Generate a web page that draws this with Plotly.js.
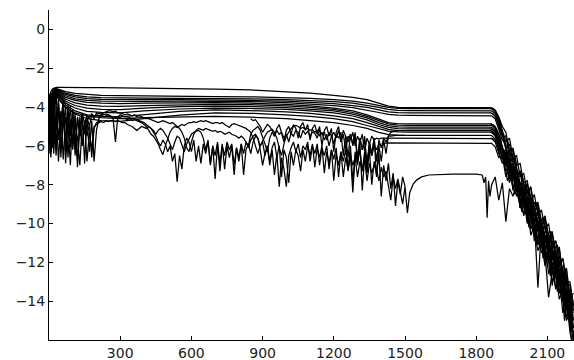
<!DOCTYPE html>
<html>
<head>
<meta charset="utf-8">
<script src="https://cdn.plot.ly/plotly-3.0.1.min.js"></script>
<style>html,body{margin:0;padding:0;background:#fff}#chart{width:574px;height:360px}</style>
</head>
<body>
<div id="chart"></div>
<script>
// ---- tick labels ----
const xTicks = [300, 600, 900, 1200, 1500, 1800, 2100];
const yTicks = [0, -2, -4, -6, -8, -10, -12, -14];

// ---- smooth series: values at knotX ----
const knotX = [0, 8, 16, 24, 32, 45, 70, 110, 160, 220, 300, 400, 550, 700, 850, 1000, 1100, 1200, 1280, 1340, 1390, 1430, 1470, 1520, 1860];
const s1  = [-3.6, -3.2, -3.05, -3.0, -2.98, -2.98, -2.99, -3.0, -3.0, -3.0, -3.01, -3.02, -3.04, -3.07, -3.12, -3.2, -3.28, -3.4, -3.5, -3.62, -3.8, -3.95, -4.02, -4.03, -4.03];
const s2  = [-4.5, -3.4, -3.15, -3.05, -3.05, -3.1, -3.2, -3.3, -3.36, -3.4, -3.41, -3.43, -3.45, -3.46, -3.47, -3.5, -3.55, -3.62, -3.7, -3.8, -3.92, -4.02, -4.07, -4.08, -4.08];
const s3  = [-3.3, -4.1, -3.2, -3.1, -3.08, -3.15, -3.28, -3.4, -3.47, -3.51, -3.53, -3.54, -3.55, -3.56, -3.58, -3.62, -3.66, -3.72, -3.8, -3.9, -4.02, -4.12, -4.17, -4.18, -4.18];
const s4  = [-5.0, -3.6, -3.3, -3.15, -3.12, -3.2, -3.35, -3.48, -3.56, -3.6, -3.62, -3.62, -3.62, -3.63, -3.66, -3.7, -3.75, -3.82, -3.92, -4.02, -4.15, -4.25, -4.29, -4.30, -4.30];
const s5  = [-3.8, -4.8, -3.4, -3.2, -3.15, -3.25, -3.42, -3.58, -3.66, -3.7, -3.72, -3.71, -3.7, -3.7, -3.72, -3.77, -3.83, -3.92, -4.03, -4.15, -4.28, -4.38, -4.42, -4.43, -4.43];
const s6  = [-5.5, -3.5, -3.6, -3.25, -3.2, -3.3, -3.5, -3.66, -3.76, -3.8, -3.82, -3.8, -3.78, -3.77, -3.8, -3.86, -3.94, -4.05, -4.2, -4.4, -4.62, -4.8, -4.86, -4.87, -4.87];
const s7  = [-4.2, -5.6, -3.5, -3.3, -3.22, -3.35, -3.6, -3.78, -3.9, -3.95, -3.96, -3.92, -3.88, -3.86, -3.88, -3.94, -4.02, -4.12, -4.28, -4.48, -4.7, -4.87, -4.93, -4.94, -4.94];
const s8  = [-6.0, -3.9, -3.7, -3.35, -3.25, -3.4, -3.7, -3.92, -4.06, -4.12, -4.13, -4.06, -3.98, -3.95, -3.97, -4.03, -4.1, -4.2, -4.36, -4.56, -4.8, -4.96, -5.02, -5.03, -5.03];
const s9  = [-4.8, -6.2, -3.8, -3.4, -3.3, -3.45, -3.8, -4.05, -4.22, -4.28, -4.3, -4.2, -4.1, -4.05, -4.07, -4.12, -4.2, -4.3, -4.46, -4.66, -4.9, -5.05, -5.11, -5.12, -5.12];
const s10 = [-6.4, -4.3, -5.2, -3.45, -3.35, -3.5, -3.9, -4.2, -4.4, -4.48, -4.5, -4.38, -4.22, -4.15, -4.18, -4.25, -4.33, -4.45, -4.6, -4.8, -5.0, -5.15, -5.21, -5.22, -5.22];
const s11 = [-5.2, -6.6, -4.2, -3.5, -3.4, -3.6, -4.0, -4.35, -4.6, -4.7, -4.74, -4.6, -4.42, -4.3, -4.32, -4.4, -4.48, -4.6, -4.75, -4.95, -5.12, -5.24, -5.28, -5.29, -5.29];
const s12 = [-3.9, -5.4, -6.1, -3.6, -3.45, -3.65, -4.05, -4.3, -4.45, -4.55, -4.6, -4.55, -4.5, -4.48, -4.52, -4.6, -4.7, -4.8, -4.95, -5.1, -5.3, -5.42, -5.45, -5.46, -5.46];

// ---- noisy series: values every 10 units from 0 to 1500 ----
const noiseStep = 10;
const n1 = [
 -4.2, -5.6, -3.5, -6.1, -4.0, -5.4, -3.8, -6.3, -4.3, -5.5,
 -4.1, -6.0, -4.5, -5.2, -4.3, -4.9, -4.4, -4.6, -4.35, -4.5,
 -4.4, -4.45, -4.4, -4.5, -4.45, -4.4, -4.5, -4.5, -4.55, -4.5,
 -4.55, -4.6, -4.6, -4.65, -4.6, -4.7, -4.65, -4.7, -4.75, -4.8,
 -4.9, -5.0, -5.2, -5.4, -5.5, -5.7, -5.9, -6.2, -6.45, -6.0,
 -5.6, -5.3, -5.1, -5.0, -5.05, -4.95, -4.9, -4.95, -4.85, -4.8,
 -4.8, -4.75, -4.8, -4.75, -4.7, -4.75, -4.7, -4.75, -4.8, -4.85,
 -4.8, -4.8, -4.85, -4.8, -4.9, -5.0, -5.05, -4.9, -4.85, -4.9,
 -4.95, -5.0, -5.05, -5.1, -5.2, -5.3, -5.6, -6.0, -6.4, -6.0,
 -5.7, -5.5, -5.3, -5.2, -5.15, -5.3, -5.6, -6.1, -6.5, -5.9,
 -5.5, -5.3, -5.1, -5.0, -4.95, -5.0, -5.1, -5.05, -5.15, -5.1,
 -5.2, -5.15, -5.3, -5.2, -5.5, -5.3, -5.7, -5.4, -6.0, -5.5,
 -5.3, -5.6, -5.2, -5.8, -5.4, -6.2, -5.5, -5.7, -5.3, -6.0,
 -5.5, -5.8, -5.4, -6.3, -5.6, -5.9, -5.5, -5.7, -5.6, -5.65,
 -5.6, -5.6, -5.6, -5.6, -5.6, -5.6, -5.6, -5.6, -5.6, -5.6,
 -5.6];
const n2 = [
 -5.0, -3.3, -6.4, -4.0, -6.8, -4.6, -3.7, -6.9, -4.8, -7.0,
 -4.2, -6.5, -4.6, -5.5, -4.4, -6.9, -4.5, -5.0, -4.4, -4.6,
 -4.3, -4.35, -4.3, -4.4, -4.35, -4.4, -4.45, -4.6, -5.8, -4.5,
 -4.4, -4.45, -4.5, -4.5, -4.55, -4.6, -4.6, -4.65, -4.7, -4.75,
 -4.8, -4.9, -5.0, -5.1, -5.3, -5.5, -5.8, -6.0, -5.7, -5.9,
 -6.3, -6.0, -6.8, -6.4, -7.85, -6.5, -7.2, -6.0, -5.6, -5.8,
 -6.3, -5.7, -6.8, -6.0, -6.9, -5.9, -6.4, -5.8, -6.9, -6.0,
 -7.7, -5.9, -7.3, -6.0, -6.5, -5.8, -6.2, -5.9, -7.0, -6.1,
 -6.6, -5.9, -7.5, -6.2, -5.9, -6.4, -5.8, -5.5, -5.6, -6.0,
 -5.8, -6.5, -6.0, -7.0, -6.2, -7.5, -6.4, -8.1, -6.6, -7.2,
 -8.1, -6.5, -6.1, -5.8, -6.3, -5.9, -6.6, -6.0, -6.2, -5.8,
 -6.8, -6.0, -6.4, -5.9, -7.0, -6.1, -6.5, -6.0, -7.2, -6.2,
 -6.7, -6.1, -7.6, -6.3, -6.8, -6.2, -7.3, -6.4, -8.4, -6.5,
 -6.9, -6.2, -7.3, -6.3, -6.8, -6.1, -6.5, -6.0, -6.2, -5.9,
 -6.0, -5.9, -5.85, -5.85, -5.85, -5.85, -5.85, -5.85, -5.85, -5.85,
 -5.85];
const n3 = [
 -3.4, -5.9, -4.5, -6.5, -3.8, -6.2, -5.0, -4.0, -6.6, -4.6,
 -5.9, -4.3, -7.1, -5.0, -6.0, -4.7, -6.8, -5.3, -6.2, -5.0,
 -4.9, -4.8, -4.75, -4.8, -4.7, -4.75, -4.7, -4.7, -4.75, -4.7,
 -4.75, -4.8, -4.8, -4.9, -4.95, -5.0, -5.1, -5.2, -5.1, -5.0,
 -5.05, -5.1, -5.0, -5.1, -5.2, -5.4, -5.2, -5.1, -5.2, -5.4,
 -5.6, -5.9, -6.2, -5.8, -5.5, -5.6, -5.9, -6.3, -5.9, -5.6,
 -5.4, -5.3, -5.25, -5.2, -5.3, -5.6, -6.2, -5.7, -7.0, -6.0,
 -6.5, -5.8, -6.9, -5.9, -7.2, -6.0, -6.6, -6.0, -7.5, -6.1,
 -6.8, -5.9, -6.4, -5.8, -6.1, -5.7, -5.5, -5.4, -5.6, -6.2,
 -7.0, -6.4, -6.0, -6.8, -6.1, -5.8, -6.6, -6.0, -7.6, -6.2,
 -6.6, -7.9, -6.3, -7.0, -6.2, -6.5, -7.3, -6.2, -6.8, -6.0,
 -6.5, -5.9, -7.1, -6.1, -6.6, -6.0, -7.4, -6.3, -6.9, -6.2,
 -7.8, -6.4, -7.0, -6.3, -7.6, -6.6, -7.2, -6.5, -7.0, -6.6,
 -7.6, -6.8, -7.3, -6.7, -7.8, -6.9, -7.4, -7.0, -7.2, -7.8,
 -7.1, -7.6, -7.3, -8.0, -8.8, -7.6, -8.2, -7.7, -8.4, -9.0,
 -8.1];
const n4 = [
 -5.5, -3.8, -5.0, -3.3, -5.7, -4.2, -6.7, -4.5, -5.3, -3.9,
 -6.2, -4.8, -5.6, -7.0, -4.9, -5.4, -4.6, -6.3, -4.7, -6.8,
 -5.2, -4.6, -4.4, -4.3, -4.25, -4.2, -4.2, -4.25, -4.2, -4.3,
 -4.3, -4.35, -4.4, -4.35, -4.4, -4.45, -4.4, -4.5, -4.45, -4.5,
 -4.55, -4.6, -4.6, -4.65, -4.7, -4.75, -4.8, -4.75, -4.7, -4.75,
 -4.8, -4.85, -4.8, -4.9, -5.0, -5.1, -5.3, -5.6, -6.1, -6.3,
 -5.8, -5.4, -5.2, -5.1, -5.15, -5.2, -5.1, -5.15, -5.2, -5.25,
 -5.2, -5.3, -5.25, -5.3, -5.4, -5.35, -5.3, -5.4, -5.45, -5.5,
 -5.6, -5.5, -5.6, -5.8, -6.0, -5.4, -5.2, -5.1, -5.0, -5.2,
 -5.5, -5.9, -6.3, -5.6, -5.3, -5.5, -5.2, -5.4, -5.3, -5.6,
 -5.4, -5.8, -5.35, -5.5, -5.2, -5.3, -5.6, -5.2, -5.4, -5.25,
 -5.5, -5.3, -5.35, -5.6, -5.2, -5.4, -5.3, -5.7, -5.3, -5.5,
 -5.9, -5.4, -5.6, -5.3, -6.5, -5.5, -5.8, -5.4, -6.0, -5.5,
 -6.6, -5.6, -6.2, -5.7, -7.0, -5.8, -6.4, -5.6, -6.8, -5.7,
 -6.1, -5.6, -5.8, -5.5, -5.5, -5.46, -5.46, -5.46, -5.46, -5.46,
 -5.46];
// extra noisy stretch 850..1460 (ends on the -5.22 plateau line)
const n5Start = 850;
const n5 = [
 -4.6, -4.7, -4.65, -4.8, -5.0, -5.3, -5.1, -4.9, -5.0, -5.2,
 -5.5, -5.1, -4.9, -5.3, -5.8, -5.2, -5.0, -5.4, -4.9, -5.1,
 -5.6, -5.0, -4.8, -5.2, -4.9, -5.7, -5.1, -4.9, -5.4, -5.0,
 -6.0, -5.2, -5.0, -5.5, -5.1, -6.3, -5.3, -5.0, -5.8, -5.2,
 -5.5, -6.6, -5.4, -5.9, -5.3, -7.0, -5.6, -6.2, -5.5, -7.3,
 -5.8, -6.5, -5.6, -7.6, -6.0, -6.8, -5.7, -6.4, -5.5, -5.3,
 -5.25, -5.22];
// extra noisy stretch 0..220 (ends on a smooth line)
const n6 = [-3.9, -6.3, -4.6, -5.2, -3.5, -6.6, -4.3, -5.8, -3.9, -6.1, -4.7, -5.5,
 -6.7, -4.5, -6.0, -4.8, -5.5, -4.9, -6.6, -5.1, -4.8, -4.75, -4.7];
// extra noisy stretch 1250..1500 (ends on series 3)
const n7Start = 1250;
const n7 = [
 -5.8, -7.2, -6.0, -7.9, -6.3, -6.8, -5.9, -8.3, -6.5, -7.4,
 -6.2, -8.0, -6.8, -7.5, -6.4, -8.6, -7.0, -7.8, -6.9, -8.2,
 -7.4, -9.1, -7.8, -8.5, -7.6, -8.1];

// plateau of noisy series 1, 2 (held to 1860)
const plateauX = [1860];
const n1Plateau = [-5.6];
const n2Plateau = [-5.85];
// series 3 after 1500: rises to the low plateau, then gets noisy
const n3PostX = [1510, 1520, 1535, 1550, 1570, 1600, 1650, 1700, 1800, 1825, 1833, 1840, 1846, 1852, 1858];
const n3Post  = [-9.45, -8.4, -7.95, -7.75, -7.6, -7.5, -7.47, -7.45, -7.45, -7.5, -7.9, -7.6, -9.7, -7.8, -8.6];

// ---- falling tails, values at tailX ----
const tailX = [1865, 1880, 1895, 1910, 1925, 1940, 1955, 1970, 1985, 2000, 2015, 2030, 2045, 2060, 2075, 2090, 2105, 2120, 2135, 2150, 2165, 2180, 2195, 2210];
const t1  = [-4.05, -4.15, -4.5, -5.0, -5.3, -6.3, -6.1, -7.0, -6.9, -7.9, -7.8, -8.9, -8.5, -9.6, -9.3, -10.3, -10.0, -11.2, -10.9, -12.0, -11.8, -13.0, -13.0, -14.2];
const t2  = [-4.1, -4.22, -4.6, -5.2, -5.8, -5.6, -6.6, -6.5, -7.6, -7.4, -8.4, -8.1, -9.2, -8.9, -9.9, -9.6, -10.7, -10.4, -11.5, -11.3, -12.6, -12.3, -13.8, -13.6];
const t3  = [-4.2, -4.32, -4.75, -5.5, -5.5, -6.5, -6.2, -7.4, -7.3, -8.0, -8.3, -8.2, -9.4, -9.0, -10.2, -9.8, -10.6, -11.0, -10.9, -12.1, -11.8, -13.0, -13.2, -14.5];
const t4  = [-4.32, -4.45, -4.9, -5.4, -6.2, -5.9, -6.8, -7.6, -7.3, -8.5, -7.9, -9.4, -8.9, -9.3, -10.1, -9.7, -11.0, -10.5, -11.8, -11.2, -12.8, -12.4, -14.0, -14.0];
const t5  = [-4.45, -4.6, -5.1, -5.7, -5.9, -6.9, -6.6, -7.2, -8.3, -7.9, -9.0, -8.6, -10.0, -9.4, -10.5, -10.1, -11.4, -11.2, -12.1, -12.5, -12.3, -13.6, -13.5, -15.0];
const t6  = [-4.88, -5.0, -5.4, -6.1, -6.5, -6.3, -7.6, -7.2, -8.0, -8.7, -8.3, -9.5, -9.1, -10.3, -9.8, -11.0, -10.6, -11.9, -11.4, -12.6, -13.3, -12.7, -14.3, -14.6];
const t7  = [-4.95, -5.1, -5.6, -6.3, -6.2, -7.2, -6.9, -8.0, -8.0, -9.0, -8.6, -9.6, -10.3, -9.8, -10.8, -10.6, -11.8, -11.3, -12.4, -12.0, -13.3, -13.0, -14.6, -14.2];
const t8  = [-5.05, -5.2, -5.7, -6.0, -6.9, -6.6, -7.5, -7.3, -8.6, -8.2, -9.4, -8.9, -9.8, -13.3, -10.2, -11.3, -10.9, -12.3, -11.6, -12.8, -12.5, -13.9, -13.6, -15.4];
const t9  = [-5.13, -5.3, -5.8, -6.5, -6.3, -7.4, -7.0, -8.4, -7.9, -9.0, -9.3, -9.0, -10.5, -9.9, -11.2, -10.6, -11.4, -12.1, -11.8, -13.2, -12.6, -14.2, -14.3, -15.8];
const t10 = [-5.23, -5.4, -5.9, -6.2, -7.0, -6.7, -7.8, -7.5, -8.9, -8.3, -9.6, -9.2, -10.1, -11.1, -10.4, -11.6, -13.8, -12.5, -11.9, -13.6, -12.9, -14.5, -14.1, -16.0];
const t11 = [-5.3, -5.5, -6.0, -6.7, -6.5, -7.7, -7.2, -8.2, -8.8, -8.4, -9.9, -9.3, -10.9, -10.2, -10.8, -11.7, -11.3, -12.4, -13.3, -12.6, -14.0, -13.6, -15.3, -15.6];
const t12 = [-5.47, -5.65, -6.2, -6.4, -7.3, -6.9, -8.3, -7.7, -9.2, -8.6, -10.0, -9.6, -10.6, -11.4, -10.9, -12.2, -11.6, -13.0, -12.4, -13.9, -13.4, -15.0, -14.6, -16.0];
const t13 = [-5.62, -5.8, -6.4, -6.9, -6.6, -7.9, -7.3, -8.6, -8.1, -9.6, -9.0, -10.3, -9.8, -11.0, -10.5, -11.9, -11.2, -13.2, -12.1, -13.5, -13.0, -14.8, -14.4, -16.2];
const t14 = [-5.87, -6.05, -6.6, -6.5, -7.6, -7.1, -8.2, -8.0, -9.0, -9.5, -9.1, -10.6, -10.1, -10.9, -11.5, -11.1, -12.6, -12.0, -13.4, -12.8, -14.6, -13.8, -15.6, -16.5];
const t15 = [-8.0, -7.6, -8.8, -7.9, -9.9, -8.2, -8.6, -8.0, -9.2, -8.7, -9.6, -9.3, -10.2, -9.9, -11.0, -10.6, -11.6, -11.2, -12.4, -12.0, -13.2, -13.6, -15.0, -16.0];

// ---- extra tails that branch off plateau lines at 1860 ----
const branchLevels = [-4.03, -4.30, -4.87, -5.12, -5.29, -5.60];
const tailXb = [1872, 1887, 1902, 1917, 1932, 1947, 1962, 1977, 1992, 2007, 2022, 2037, 2052, 2067, 2082, 2097, 2112, 2127, 2142, 2157, 2172, 2187, 2202];
const e1 = [-4.08, -4.35, -4.9, -5.8, -5.7, -6.8, -6.5, -7.6, -7.5, -8.4, -8.2, -9.1, -8.9, -9.9, -9.7, -10.6, -10.4, -11.3, -11.1, -12.2, -12.3, -13.4, -13.8];
const e2 = [-4.35, -4.6, -5.3, -5.6, -6.6, -6.4, -7.3, -7.5, -8.3, -8.0, -9.2, -8.9, -9.8, -9.6, -10.6, -10.3, -11.3, -11.0, -12.2, -11.9, -13.2, -13.1, -14.8];
const e3 = [-4.92, -5.2, -5.6, -6.5, -6.3, -7.3, -7.1, -8.2, -7.9, -9.0, -8.7, -9.8, -9.4, -10.5, -10.1, -11.3, -10.8, -12.1, -11.7, -13.0, -12.6, -14.3, -14.2];
const e4 = [-5.17, -5.45, -6.1, -6.3, -7.2, -6.9, -7.9, -7.7, -8.9, -8.4, -9.6, -9.2, -10.4, -9.9, -11.2, -10.7, -12.0, -11.4, -12.6, -12.3, -15.0, -13.4, -15.2];
const e5 = [-5.34, -5.6, -6.3, -6.9, -6.6, -7.8, -7.4, -8.7, -8.2, -9.5, -9.0, -10.3, -9.7, -11.1, -10.5, -11.9, -11.3, -12.9, -12.1, -13.6, -13.0, -14.9, -15.1];
const e6 = [-5.65, -5.9, -6.6, -6.7, -7.8, -7.3, -8.5, -8.1, -9.4, -8.8, -10.2, -9.5, -11.0, -10.4, -11.8, -11.1, -12.7, -11.9, -13.5, -12.8, -14.6, -14.2, -16.0];

// ---- build traces ----
function gridX(arr, step, start) { return arr.map((_, i) => (start || 0) + i * step); }
const traces = [];
const LW = 1.25;
function add(x, y) {
  traces.push({x: x, y: y, type: 'scatter', mode: 'lines',
    line: {color: '#000', width: LW}, hoverinfo: 'skip', showlegend: false});
}
const smooth = [[s1,t1],[s2,t2],[s3,t3],[s4,t4],[s5,t5],[s6,t6],[s7,t7],[s8,t8],[s9,t9],[s10,t10],[s11,t11],[s12,t12]];
smooth.forEach(([s, t]) => add(knotX.concat(tailX), s.concat(t)));
add(gridX(n1, noiseStep).concat(plateauX, tailX), n1.concat(n1Plateau, t13));
add(gridX(n2, noiseStep).concat(plateauX, tailX), n2.concat(n2Plateau, t14));
add(gridX(n3, noiseStep).concat(n3PostX, tailX), n3.concat(n3Post, t15));
add(gridX(n4, noiseStep), n4);
add(gridX(n5, noiseStep, n5Start), n5);
add(gridX(n6, noiseStep), n6);
add(gridX(n7, noiseStep, n7Start), n7);
[e1, e2, e3, e4, e5, e6].forEach((e, i) => add([1860].concat(tailXb), [branchLevels[i]].concat(e)));

const tickFont = {family: 'DejaVu Sans, sans-serif', size: 14, color: '#222'};
const layout = {
  width: 574, height: 360,
  margin: {l: 49, r: 0, t: 10, b: 20, pad: 0},
  paper_bgcolor: '#fff', plot_bgcolor: '#fff',
  showlegend: false,
  xaxis: {range: [0, 2212], tickvals: xTicks, ticktext: xTicks.map(String),
    showline: true, linecolor: '#000', linewidth: 1, zeroline: false, showgrid: false,
    ticks: 'inside', ticklen: 4, tickcolor: '#000', tickwidth: 1, tickfont: tickFont},
  yaxis: {range: [-16, 1], tickvals: yTicks,
    showline: true, linecolor: '#000', linewidth: 1, zeroline: false, showgrid: false,
    ticks: 'inside', ticklen: 4, tickcolor: '#000', tickwidth: 1, tickfont: tickFont}
};
Plotly.newPlot('chart', traces, layout, {staticPlot: true, displayModeBar: false});
</script>
</body>
</html>
